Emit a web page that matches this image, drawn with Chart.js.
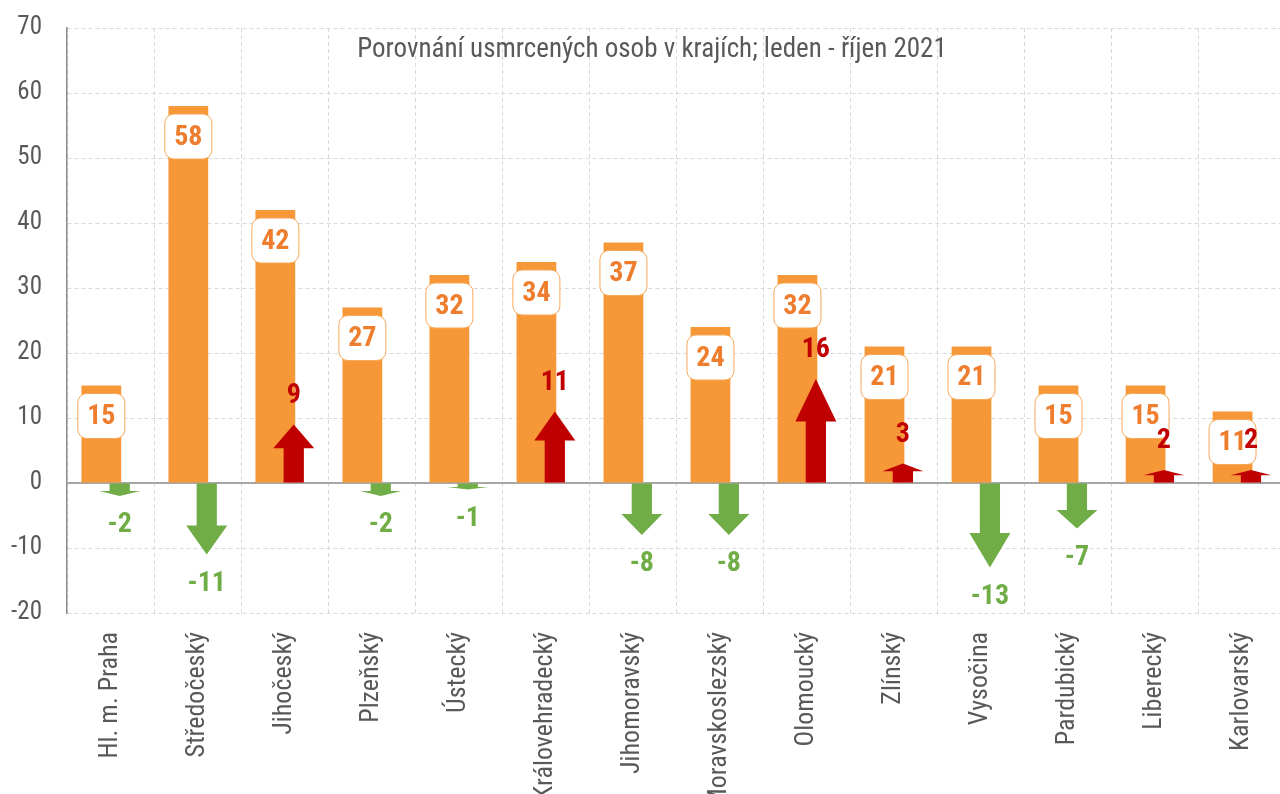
<!DOCTYPE html>
<html>
<head>
<meta charset="utf-8">
<title>Usmrcené osoby v krajích</title>
<script src="https://cdn.jsdelivr.net/npm/chart.js@4.4.1/dist/chart.umd.min.js"></script>
<style>
  html, body { margin: 0; padding: 0; overflow: hidden; background: #fff; }
  #wrap { width: 1292px; height: 794px; }
</style>
</head>
<body>
<div id="wrap"><canvas id="graf1" width="1292" height="794"></canvas></div>
<script>
// data
var kraje = ['Hl. m. Praha', 'Středočeský', 'Jihočeský', 'Plzeňský', 'Ústecký', 'Královehradecký',
  'Jihomoravský', 'Moravskoslezský', 'Olomoucký', 'Zlínský', 'Vysočina', 'Pardubický', 'Liberecký', 'Karlovarský'];
var usmrceni = [15, 58, 42, 27, 32, 34, 37, 24, 32, 21, 21, 15, 15, 11];
var zmena = [-2, -11, 9, -2, -1, 11, -8, -8, 16, 3, -13, -7, 2, 2];
var osaY = [-20, -10, 0, 10, 20, 30, 40, 50, 60, 70];
var nazev = 'Porovnání usmrcených osob v krajích; leden - říjen 2021';

var FONT = "'Liberation Sans Narrow', 'Arial Narrow', 'Roboto Condensed', 'Liberation Sans', sans-serif";
var SEDA = '#595959';
var ORANZ = '#F79838';
var ORANZ_TEXT = '#EE7D2E';
var CERVENA = '#C00000';
var ZELENA = '#70AD47';

// zero line, arrows and the value labels
var popisky = {
  id: 'popisky',
  beforeDatasetsDraw: function(chart) {
    var ctx = chart.ctx;
    var a = chart.chartArea;
    var y0 = chart.scales.y.getPixelForValue(0);
    ctx.save();
    ctx.strokeStyle = '#a6a6a6';
    ctx.lineWidth = 2;
    ctx.beginPath();
    ctx.moveTo(a.left, y0);
    ctx.lineTo(a.right, y0);
    ctx.stroke();
    ctx.restore();
  },
  afterDatasetsDraw: function(chart) {
    var ctx = chart.ctx;
    ctx.save();

    // arrows
    var meta1 = chart.getDatasetMeta(1);
    meta1.data.forEach(function(el, i) {
      var v = zmena[i];
      var len = el.base - el.y;
      var head = len * 0.41;
      var sw = el.width / 2;
      var hw = 20.5;
      ctx.fillStyle = v >= 0 ? CERVENA : ZELENA;
      ctx.beginPath();
      ctx.moveTo(el.x - sw, el.base);
      ctx.lineTo(el.x - sw, el.y + head);
      ctx.lineTo(el.x - hw, el.y + head);
      ctx.lineTo(el.x, el.y);
      ctx.lineTo(el.x + hw, el.y + head);
      ctx.lineTo(el.x + sw, el.y + head);
      ctx.lineTo(el.x + sw, el.base);
      ctx.closePath();
      ctx.fill();
    });

    // boxes with totals
    var meta0 = chart.getDatasetMeta(0);
    ctx.font = 'bold 28px ' + FONT;
    ctx.textAlign = 'center';
    ctx.textBaseline = 'middle';
    meta0.data.forEach(function(el, i) {
      var bx = el.x - 23.5, by = el.y + 8;
      ctx.beginPath();
      ctx.roundRect(bx, by, 47, 45, 9);
      ctx.fillStyle = '#fff';
      ctx.fill();
      ctx.strokeStyle = '#F7A859';
      ctx.lineWidth = 1;
      ctx.stroke();
      ctx.fillStyle = ORANZ_TEXT;
      ctx.fillText(String(usmrceni[i]), el.x, by + 23.5);
    });

    // change labels
    meta1.data.forEach(function(el, i) {
      var v = zmena[i];
      ctx.fillStyle = v >= 0 ? CERVENA : ZELENA;
      ctx.fillText(String(v), el.x, el.y + (v >= 0 ? -29 : 29));
    });

    // title
    ctx.font = '27px ' + FONT;
    ctx.fillStyle = SEDA;
    ctx.fillText(nazev, 652, 50);
    ctx.restore();
  }
};

var g1 = document.getElementById('graf1');
var chart = new Chart(g1, {
  type: 'bar',
  data: {
    labels: kraje,
    datasets: [
      {
        label: 'usmrcení',
        data: usmrceni,
        backgroundColor: ORANZ,
        categoryPercentage: 0.423,
        barPercentage: 2.16
      },
      {
        label: 'změna',
        data: zmena,
        backgroundColor: 'rgba(0,0,0,0)',
        categoryPercentage: 0.423,
        barPercentage: 1.1
      }
    ]
  },
  options: {
    responsive: false,
    animation: false,
    layout: { padding: { top: 28, right: 1, left: 0, bottom: 0 } },
    plugins: {
      legend: { display: false },
      tooltip: { enabled: false }
    },
    scales: {
      x: {
        grid: { color: '#d9d9d9', drawTicks: false },
        border: { display: false, dash: [4, 3] },
        ticks: {
          color: SEDA,
          font: { family: FONT, size: 26 },
          autoSkip: false,
          maxRotation: 90,
          minRotation: 90,
          padding: 19
        },
        afterFit: function(s) { s.height = 181; }
      },
      y: {
        min: osaY[0],
        max: osaY[osaY.length - 1],
        grid: { color: '#d9d9d9', drawTicks: false },
        border: { display: true, color: '#8c8c8c', width: 1.5, dash: [4, 3] },
        ticks: {
          stepSize: osaY[1] - osaY[0],
          color: SEDA,
          font: { family: FONT, size: 25 },
          padding: 25
        },
        afterFit: function(s) {
          s.width = 67;
          s.paddingTop = 0;
          s.paddingBottom = 0;
        }
      }
    }
  },
  plugins: [popisky]
});
</script>
</body>
</html>
